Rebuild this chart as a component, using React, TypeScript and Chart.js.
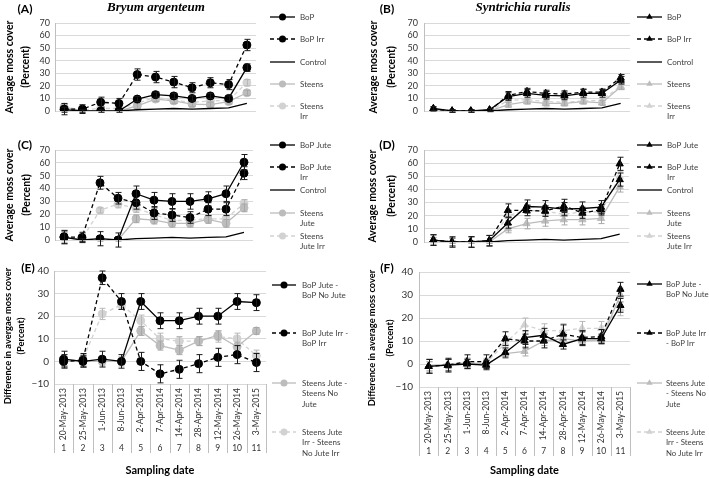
import React, { useEffect, useRef } from "react";
import { Chart, registerables } from "chart.js";

Chart.register(...registerables);

const SANS = "Lato, 'Open Sans', 'DejaVu Sans', sans-serif";
const SERIF = "'Liberation Serif', 'DejaVu Serif', serif";

// ---------- categories & ticks ----------
const sampleDates = [
  "20-May-2013", "25-May-2013", "1-Jun-2013", "8-Jun-2013", "2-Apr-2014", "7-Apr-2014",
  "14-Apr-2014", "28-Apr-2014", "12-May-2014", "26-May-2014", "3-May-2015",
];
const sampleNumbers = ["1", "2", "3", "4", "5", "6", "7", "8", "9", "10", "11"];
const coverTicks = [0, 10, 20, 30, 40, 50, 60, 70];
const diffTicks = [-10, 0, 10, 20, 30, 40];

// ---------- control (shared) ----------
const control = [null, null, null, 0, 1, 1.5, 2, 1.5, 2, 2.5, 6];

// ---------- (A) Bryum argenteum ----------
const aBoP = [1, 0, 0, 0, 9.5, 13, 12, 10, 12, 10, 34.5];
const aBoPErr = [2, 1, 1, 1, 2, 2, 2, 2, 2, 2, 3];
const aBoPIrr = [1.5, 1.5, 7, 6, 29, 27, 23, 18.5, 22.5, 21, 52.5];
const aBoPIrrErr = [4.5, 3.5, 4, 4, 4.5, 4.5, 4.5, 4, 4, 4, 4.5];
const aSteens = [3, 0, 0, 0, 4, 9.5, 8, 5.5, 5, 7.5, 14.5];
const aSteensErr = [2, 1, 1, 1, 2, 2, 2, 2, 2, 2, 2];
const aSteensIrr = [3, 1, 2, 2, 6, 11, 8.5, 7, 8, 8.5, 22.5];
const aSteensIrrErr = [3, 1, 1.5, 1.5, 2, 2, 2, 2, 2, 2, 2.5];

// ---------- (B) Syntrichia ruralis ----------
const bBoP = [2, 0, 0, 1, 11.5, 14, 12.5, 12, 14, 14, 24.5];
const bBoPErr = [1.5, 1, 1, 1, 3, 3, 3, 3, 3, 3, 3];
const bBoPIrr = [1.5, 0, 0, 0.5, 12.5, 15.5, 14, 13.5, 15, 15, 26.5];
const bBoPIrrErr = [1.5, 1, 1, 1, 3, 2.5, 2.5, 2.5, 2.5, 2.5, 2.5];
const bSteens = [1, 0, 0, 0, 5, 7.5, 6, 6, 7.5, 6.5, 19];
const bSteensErr = [1, 0.5, 0.5, 0.5, 2, 2, 2, 2, 2, 2, 2];
const bSteensIrr = [1, 0, 0, 0, 8.5, 9, 7.5, 7, 8, 8.5, 20];
const bSteensIrrErr = [1, 0.5, 0.5, 0.5, 2, 2, 2, 2, 2, 2, 2];

// ---------- (C) Bryum argenteum, jute ----------
const cBoPJute = [2, 0, 1, 0, 36, 31, 30, 30, 32, 36, 60.5];
const cBoPJuteErr = [5, 1, 5.5, 5.5, 6, 6, 6, 6, 5.5, 6, 6];
const cBoPJuteIrr = [2.5, 2, 44.5, 32.5, 29, 21, 19.5, 17.5, 24, 24, 52];
const cBoPJuteIrrErr = [5, 4, 5, 4.5, 5, 5, 5, 4.5, 5, 5, 5];
const cSteensJute = [2.5, 0, 0, 0, 16.5, 15.5, 13, 13, 16, 13, 25];
const cSteensJuteErr = [3, 1, 1, 1, 3, 3, 3, 3, 3, 3, 3];
const cSteensJuteIrr = [2.5, 1, 23, 28, 24.5, 20, 15, 15.5, 16.5, 16.5, 28.5];
const cSteensJuteIrrErr = [3, 3, 2, 3, 3, 3, 3, 3, 3, 3, 3];

// ---------- (D) Syntrichia ruralis, jute ----------
const dBoPJute = [1.5, 0, 0, 1, 14.5, 27, 26.5, 25, 25.5, 26.5, 47.5];
const dBoPJuteErr = [4, 4, 4, 4, 4, 5, 5, 5, 5, 5, 5];
const dBoPJuteIrr = [1.5, 0, 0, 1, 24, 24, 23.5, 27.5, 22, 24.5, 59.5];
const dBoPJuteIrrErr = [4, 3, 4, 4, 5, 4, 4, 5, 4, 4, 5];
const dSteensJute = [1.5, 0, 0, 0, 10, 14, 16, 17, 17, 18, 42];
const dSteensJuteErr = [2, 1, 1, 1, 3, 4, 4, 4, 4, 4, 4];
const dSteensJuteIrr = [1.5, 0, 0, 0, 20, 24, 23.5, 21, 23, 23, 50];
const dSteensJuteIrrErr = [2, 1, 1, 1, 4, 4, 4, 4, 4, 4, 4];

// ---------- (E) differences, Bryum ----------
const eBoP = [1, 0, 1, 0, 26.5, 18, 18, 20, 20, 26.5, 26];
const eBoPErr = [3.5, 2.5, 3.5, 3, 3.5, 3.5, 3.5, 3.5, 3.5, 3.5, 3.5];
const eBoPIrr = [0, 0.5, 37, 26.5, 0, -5.5, -3.5, -1, 1.8, 3, -0.5];
const eBoPIrrErr = [3, 3, 3, 3.5, 4, 4, 4, 4, 4, 4, 4];
const eSteens = [0, 0, 0, 0, 13.5, 7, 5, 9, 11.5, 6.5, 13.5];
const eSteensErr = [2, 2, 2, 2, 2, 2, 2, 2, 2, 2, 1.5];
const eSteensIrr = [0, 1, 21, 25, 18, 10, 9, 9, 11, 10, 2.5];
const eSteensIrrErr = [2, 2, 2.5, 2, 2.5, 2.5, 2, 2, 2.5, 2.5, 2.5];

// ---------- (F) differences, Syntrichia ----------
const fBoP = [-1, -0.5, 0, -0.5, 5, 11.5, 12.5, 8.5, 11, 11, 25.5];
const fBoPErr = [3, 2.5, 2, 2, 2, 3, 3, 2, 3, 2, 3];
const fBoPIrr = [-1, -0.5, 1, 1, 11, 10, 10, 13, 11.5, 12, 32.5];
const fBoPIrrErr = [3, 3, 3, 3, 3, 3, 3, 4, 3, 3, 3];
const fSteens = [-1, 0, 0.5, 0, 4.5, 5.5, 10, 11, 10, 10.5, 30];
const fSteensErr = [2, 2, 2, 2, 2, 2, 2, 2, 2, 2, 3];
const fSteensIrr = [-1, 0, 0.5, 0.5, 9, 17, 14.5, 14.5, 15.5, 15.5, 24];
const fSteensIrrErr = [2, 2, 2, 2, 3, 3, 3, 3, 3, 3, 3];

// ---------- styles ----------
type Style = {
  line: string; fill: string; dash: number[]; point: string | null;
  radius: number; width: number; err: string;
};
const BLACK = "#000000";
const GREY = "#bcbcbc";
const LIGHT = "#d2d2d2";
const mk = (line: string, dash: number[], point: string | null, radius: number, err: string): Style =>
  ({ line, fill: line, dash, point, radius, width: 1.3, err });

type Series = { label: string; data: (number | null)[]; err?: number[]; style: Style; legend: string[] };
type PanelCfg = {
  id: string;
  rect: [number, number, number, number];
  area: [number, number, number, number];
  yTicks: number[];
  diff: boolean;
  tickSize: number;
  tickPad: number;
  tag: { text: string; x: number; y: number };
  species?: { text: string; x: number; y: number };
  yTitle: { lines: string[]; xs: number[]; cy: number; size: number };
  legend: { x0: number; x1: number; tx: number; ys: number[]; lh: number; size: number };
  sepBottom?: number;
  series: Series[];
};

function coverSeries(kind: "circle" | "triangle", names: string[][], vals: (number | null)[][], errs: number[][]): Series[] {
  const r = kind === "circle" ? 4 : 4.2;
  const styles = [
    mk(BLACK, [], kind, r, "#1a1a1a"),
    mk(BLACK, [4, 3], kind, r, "#1a1a1a"),
    mk(BLACK, [], null, 0, BLACK),
    mk(GREY, [], kind, r, "#a8a8a8"),
    mk(LIGHT, [4, 3], kind, r, "#b8b8b8"),
  ];
  return styles.map((st, i) => ({
    label: names[i].join(" "),
    data: vals[i],
    err: errs[i],
    style: st,
    legend: names[i],
  }));
}

function diffSeries(kind: "circle" | "triangle", names: string[][], vals: number[][], errs: number[][]): Series[] {
  const r = kind === "circle" ? 4 : 4.2;
  const styles = [
    mk(BLACK, [], kind, r, "#1a1a1a"),
    mk(BLACK, [4, 3], kind, r, "#1a1a1a"),
    mk(GREY, [], kind, r, "#a8a8a8"),
    mk(LIGHT, [4, 3], kind, r, "#b8b8b8"),
  ];
  return styles.map((st, i) => ({
    label: names[i].join(" "),
    data: vals[i],
    err: errs[i],
    style: st,
    legend: names[i],
  }));
}

const namesAB = [["BoP"], ["BoP Irr"], ["Control"], ["Steens"], ["Steens", "Irr"]];
const namesCD = [["BoP Jute"], ["BoP Jute", "Irr"], ["Control"], ["Steens", "Jute"], ["Steens", "Jute Irr"]];
const namesE = [["BoP Jute -", "BoP No Jute"], ["BoP Jute Irr -", "BoP Irr"], ["Steens Jute -", "Steens No", "Jute"], ["Steens Jute", "Irr - Steens", "No Jute Irr"]];
const namesF = [["BoP Jute -", "BoP No Jute"], ["BoP Jute Irr", "- BoP Irr"], ["Steens Jute", "- Steens No", "Jute"], ["Steens Jute", "Irr - Steens", "No Jute Irr"]];

const zeroErr = control.map(() => 0);

const panels: PanelCfg[] = [
  {
    id: "A", rect: [0, 0, 360, 135], area: [55, 23, 256, 111], yTicks: coverTicks, diff: false,
    tickSize: 9, tickPad: 5,
    tag: { text: "(A)", x: 25, y: 9 },
    species: { text: "Bryum argenteum", x: 156, y: 8 },
    yTitle: { lines: ["Average moss cover", "(Percent)"], xs: [10, 26], cy: 67, size: 10.5 },
    legend: { x0: 270, x1: 295, tx: 300, ys: [17, 39, 62, 84, 106], lh: 10.5, size: 8 },
    series: coverSeries("circle", namesAB, [aBoP, aBoPIrr, control, aSteens, aSteensIrr], [aBoPErr, aBoPIrrErr, zeroErr, aSteensErr, aSteensIrrErr]),
  },
  {
    id: "B", rect: [360, 0, 349, 135], area: [424, 23, 630, 111], yTicks: coverTicks, diff: false,
    tickSize: 9, tickPad: 6,
    tag: { text: "(B)", x: 387, y: 9 },
    species: { text: "Syntrichia ruralis", x: 523, y: 8 },
    yTitle: { lines: ["Average moss cover", "(Percent)"], xs: [374, 392], cy: 67, size: 10.5 },
    legend: { x0: 637, x1: 662, tx: 667, ys: [17, 39, 62, 84, 106], lh: 10.5, size: 8 },
    series: coverSeries("triangle", namesAB, [bBoP, bBoPIrr, control, bSteens, bSteensIrr], [bBoPErr, bBoPIrrErr, zeroErr, bSteensErr, bSteensIrrErr]),
  },
  {
    id: "C", rect: [0, 135, 360, 125], area: [55, 150, 253, 240], yTicks: coverTicks, diff: false,
    tickSize: 9, tickPad: 5,
    tag: { text: "(C)", x: 25, y: 145 },
    yTitle: { lines: ["Average moss cover", "(Percent)"], xs: [10, 27], cy: 195, size: 10.5 },
    legend: { x0: 270, x1: 295, tx: 300, ys: [145, 167, 190, 213, 236], lh: 10.5, size: 8 },
    series: coverSeries("circle", namesCD, [cBoPJute, cBoPJuteIrr, control, cSteensJute, cSteensJuteIrr], [cBoPJuteErr, cBoPJuteIrrErr, zeroErr, cSteensJuteErr, cSteensJuteIrrErr]),
  },
  {
    id: "D", rect: [360, 135, 349, 125], area: [424, 150, 629, 242], yTicks: coverTicks, diff: false,
    tickSize: 9, tickPad: 6,
    tag: { text: "(D)", x: 387, y: 145 },
    yTitle: { lines: ["Average moss cover", "(Percent)"], xs: [373, 392], cy: 196, size: 10.5 },
    legend: { x0: 637, x1: 662, tx: 667, ys: [145, 167, 190, 213, 236], lh: 10.5, size: 8 },
    series: coverSeries("triangle", namesCD, [dBoPJute, dBoPJuteIrr, control, dSteensJute, dSteensJuteIrr], [dBoPJuteErr, dBoPJuteIrrErr, zeroErr, dSteensJuteErr, dSteensJuteIrrErr]),
  },
  {
    id: "E", rect: [0, 260, 360, 218], area: [54, 269, 266, 384], yTicks: diffTicks, diff: true,
    tickSize: 10, tickPad: 5,
    tag: { text: "(E)", x: 28, y: 268 },
    yTitle: { lines: ["Difference in avergae moss cover", "(Percent)"], xs: [8, 21], cy: 336, size: 9.3 },
    legend: { x0: 272, x1: 296, tx: 302, ys: [285, 333, 383, 432], lh: 10.5, size: 8 },
    sepBottom: 453,
    series: diffSeries("circle", namesE, [eBoP, eBoPIrr, eSteens, eSteensIrr], [eBoPErr, eBoPIrrErr, eSteensErr, eSteensIrrErr]),
  },
  {
    id: "F", rect: [360, 260, 349, 218], area: [419, 270, 630, 387], yTicks: diffTicks, diff: true,
    tickSize: 10, tickPad: 6,
    tag: { text: "(F)", x: 387, y: 268 },
    yTitle: { lines: ["Difference in average moss cover", "(Percent)"], xs: [372, 390], cy: 338, size: 9.3 },
    legend: { x0: 637, x1: 662, tx: 666, ys: [284, 333, 383, 432], lh: 10.5, size: 7.8 },
    sepBottom: 456,
    series: diffSeries("triangle", namesF, [fBoP, fBoPIrr, fSteens, fSteensIrr], [fBoPErr, fBoPIrrErr, fSteensErr, fSteensIrrErr]),
  },
];

function drawMarker(ctx: CanvasRenderingContext2D, kind: string, x: number, y: number, r: number) {
  ctx.beginPath();
  if (kind === "triangle") {
    let rad = 0;
    const step = (Math.PI * 2) / 3;
    ctx.moveTo(x + Math.sin(rad) * r, y - Math.cos(rad) * r);
    rad += step;
    ctx.lineTo(x + Math.sin(rad) * r, y - Math.cos(rad) * r);
    rad += step;
    ctx.lineTo(x + Math.sin(rad) * r, y - Math.cos(rad) * r);
    ctx.closePath();
  } else {
    ctx.arc(x, y, r, 0, Math.PI * 2);
  }
  ctx.fill();
}

function decorPlugin(cfg: PanelCfg) {
  const [left, top] = cfg.rect;
  const px = (x: number) => x - left;
  const py = (y: number) => y - top;
  return {
    id: "decor" + cfg.id,
    afterDatasetDraw(chart: any, args: any) {
      const ds = chart.data.datasets[args.index];
      const err: number[] | undefined = ds.errors;
      if (!err) return;
      const ctx: CanvasRenderingContext2D = chart.ctx;
      const y = chart.scales.y;
      ctx.save();
      ctx.strokeStyle = ds.errorColor;
      ctx.lineWidth = 1;
      ctx.setLineDash([]);
      args.meta.data.forEach((pt: any, j: number) => {
        const v = ds.data[j];
        const e = err[j];
        if (v == null || !e) return;
        const x = Math.round(pt.x) + 0.5;
        const yt = y.getPixelForValue(v + e);
        const yb = y.getPixelForValue(v - e);
        ctx.beginPath();
        ctx.moveTo(x, yt);
        ctx.lineTo(x, yb);
        ctx.moveTo(x - 3, yt);
        ctx.lineTo(x + 3, yt);
        ctx.moveTo(x - 3, yb);
        ctx.lineTo(x + 3, yb);
        ctx.stroke();
      });
      ctx.restore();
    },
    afterDraw(chart: any) {
      const ctx: CanvasRenderingContext2D = chart.ctx;
      ctx.save();
      ctx.fillStyle = "#000";
      ctx.textAlign = "center";
      ctx.textBaseline = "middle";
      ctx.font = `bold 12px ${SANS}`;
      ctx.fillText(cfg.tag.text, px(cfg.tag.x), py(cfg.tag.y));
      if (cfg.species) {
        ctx.font = `italic bold 13px ${SERIF}`;
        ctx.fillText(cfg.species.text, px(cfg.species.x), py(cfg.species.y));
      }
      ctx.font = `bold ${cfg.yTitle.size}px ${SANS}`;
      cfg.yTitle.lines.forEach((t, i) => {
        ctx.save();
        ctx.translate(px(cfg.yTitle.xs[i]), py(cfg.yTitle.cy));
        ctx.rotate(-Math.PI / 2);
        ctx.fillText(t, 0, 0);
        ctx.restore();
      });
      if (cfg.diff && cfg.sepBottom) {
        const { left: L, right: R, bottom: B } = chart.chartArea;
        ctx.strokeStyle = "#bfbfbf";
        ctx.lineWidth = 1;
        for (let i = 0; i <= sampleDates.length; i++) {
          const x = Math.round(L + ((R - L) * i) / sampleDates.length) + 0.5;
          ctx.beginPath();
          ctx.moveTo(x, B);
          ctx.lineTo(x, py(cfg.sepBottom));
          ctx.stroke();
        }
      }
      // legend
      const lg = cfg.legend;
      ctx.textAlign = "left";
      ctx.font = `${lg.size}px ${SANS}`;
      cfg.series.forEach((s, i) => {
        const y = py(lg.ys[i]);
        const st = s.style;
        ctx.strokeStyle = st.line;
        ctx.lineWidth = st.width;
        ctx.setLineDash(st.dash);
        ctx.beginPath();
        ctx.moveTo(px(lg.x0), y);
        ctx.lineTo(px(lg.x1), y);
        ctx.stroke();
        ctx.setLineDash([]);
        if (st.point) {
          ctx.fillStyle = st.fill;
          drawMarker(ctx, st.point, px((lg.x0 + lg.x1) / 2), y, st.radius - 0.5);
        }
        ctx.fillStyle = "#404040";
        s.legend.forEach((t, k) => ctx.fillText(t, px(lg.tx), y + k * lg.lh));
      });
      ctx.restore();
    },
  };
}

function PanelChart({ cfg }: { cfg: PanelCfg }) {
  const ref = useRef<HTMLCanvasElement>(null);
  useEffect(() => {
    const canvas = ref.current;
    if (!canvas) return;
    const [left, top, w, h] = cfg.rect;
    const [L, T, R, B] = cfg.area;
    const dateAxisH = 56;
    const datasets = cfg.series.map((s) => ({
      label: s.label,
      data: s.data,
      errors: s.err,
      errorColor: s.style.err,
      borderColor: s.style.line,
      backgroundColor: s.style.fill,
      borderWidth: s.style.width,
      borderDash: s.style.dash,
      pointStyle: s.style.point || "circle",
      pointRadius: s.style.point ? s.style.radius : 0,
      pointHoverRadius: 0,
      pointBackgroundColor: s.style.fill,
      pointBorderColor: s.style.fill,
      pointBorderWidth: 1,
      fill: false,
      tension: 0,
      spanGaps: false,
    }));
    const yTicks = cfg.yTicks;
    const scales: any = {
      x: {
        type: "category",
        labels: sampleDates,
        offset: true,
        display: cfg.diff,
        position: "bottom",
        weight: 0,
        grid: { display: false, drawTicks: false },
        border: { display: false },
        ticks: {
          autoSkip: false, minRotation: 90, maxRotation: 90, padding: 4,
          font: { family: SANS, size: 8.5 }, color: "#333",
        },
        afterFit: (s: any) => { s.height = cfg.diff ? dateAxisH : 0; },
      },
      y: {
        type: "linear",
        min: yTicks[0],
        max: yTicks[yTicks.length - 1],
        afterBuildTicks: (s: any) => { s.ticks = yTicks.map((v) => ({ value: v })); },
        afterFit: (s: any) => { s.width = L - left; },
        grid: { color: "#d9d9d9", drawTicks: false, lineWidth: 1 },
        border: { display: true, color: "#bfbfbf" },
        ticks: {
          autoSkip: false,
          font: { family: SANS, size: cfg.tickSize }, color: "#333", padding: cfg.tickPad,
          callback: (v: any) => (v < 0 ? "\u2212" + Math.abs(v) : String(v)),
        },
      },
    };
    if (cfg.diff) {
      scales.x2 = {
        type: "category",
        labels: sampleNumbers,
        offset: true,
        position: "bottom",
        weight: 1,
        grid: { display: false, drawTicks: false },
        border: { display: false },
        ticks: {
          autoSkip: false, minRotation: 0, maxRotation: 0, padding: 3,
          font: { family: SANS, size: 8.5 }, color: "#333",
        },
        title: {
          display: true, text: "Sampling date", color: "#000",
          font: { family: SANS, size: 11, weight: "bold" },
          padding: { top: 0, bottom: 1 },
        },
        afterFit: (s: any) => { s.height = h - (B - top) - dateAxisH; },
      };
    }
    const chart = new Chart(canvas, {
      type: "line",
      data: { labels: sampleDates, datasets: datasets as any },
      options: {
        responsive: false,
        animation: false,
        events: [],
        layout: {
          autoPadding: false,
          padding: {
            left: 0,
            top: T - top,
            right: left + w - R,
            bottom: cfg.diff ? 0 : top + h - B,
          },
        },
        plugins: { legend: { display: false }, tooltip: { enabled: false }, title: { display: false } },
        scales,
      } as any,
      plugins: [decorPlugin(cfg) as any],
    });
    return () => chart.destroy();
  }, [cfg]);
  const [left, top, w, h] = cfg.rect;
  return (
    <canvas
      ref={ref}
      width={w}
      height={h}
      style={{ position: "absolute", left, top, width: w, height: h }}
    />
  );
}

export default function App() {
  return (
    <div style={{ position: "absolute", left: 0, top: 0, width: 709, height: 478, background: "#fff", overflow: "hidden" }}>
      {panels.map((p) => (
        <PanelChart key={p.id} cfg={p} />
      ))}
    </div>
  );
}
